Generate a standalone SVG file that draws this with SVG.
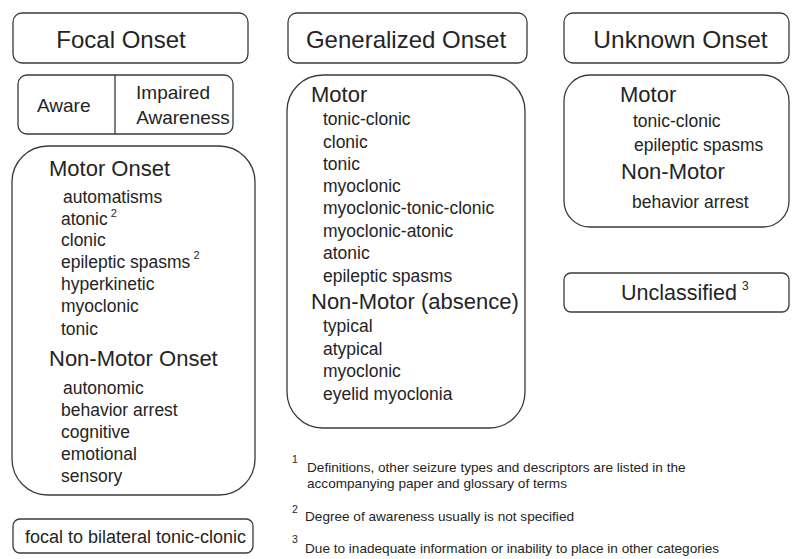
<svg xmlns="http://www.w3.org/2000/svg" width="792" height="559" viewBox="0 0 792 559">
<style>
.box{fill:#fff;stroke:#3a3a3a;stroke-width:1.3}
text{font-family:"Liberation Sans",Arial,sans-serif;fill:#242424}
.h{font-size:24px}
.s{font-size:22px}
.i{font-size:17.5px}
.a{font-size:19px}
.u{font-size:21.5px}
.sup{font-size:11px}
.fn{font-size:13.6px}
.fs{font-size:10.5px}
</style>
<rect width="792" height="559" fill="#fff"/>
<g id="focal-onset">
<rect class="box" x="13" y="13" width="235" height="50" rx="9"/>
<text class="h" x="121" y="48" text-anchor="middle">Focal Onset</text>
</g>
<g id="awareness">
<rect class="box" x="18" y="75" width="215" height="59" rx="9"/>
<line x1="115" y1="75" x2="115" y2="134" stroke="#3a3a3a" stroke-width="1.3"/>
<text class="a" x="37" y="112">Aware</text>
<text class="a" x="173" y="99" text-anchor="middle">Impaired</text>
<text class="a" x="183" y="124" text-anchor="middle">Awareness</text>
</g>
<g id="focal-types">
<rect class="box" x="12" y="146" width="243" height="349" rx="36"/>
<text class="s" x="49" y="176">Motor Onset</text>
<text class="i" x="63" y="203">automatisms</text>
<text class="i" x="61" y="224.5">atonic<tspan class="sup" dx="3" dy="-8">2</tspan></text>
<text class="i" x="61" y="246">clonic</text>
<text class="i" x="61" y="268">epileptic spasms<tspan class="sup" dx="3" dy="-9">2</tspan></text>
<text class="i" x="61" y="290">hyperkinetic</text>
<text class="i" x="61" y="312">myoclonic</text>
<text class="i" x="61" y="334.5">tonic</text>
<text class="s" x="49" y="366">Non-Motor Onset</text>
<text class="i" x="63" y="394">autonomic</text>
<text class="i" x="61" y="416">behavior arrest</text>
<text class="i" x="61" y="438">cognitive</text>
<text class="i" x="61" y="460">emotional</text>
<text class="i" x="61" y="482">sensory</text>
</g>
<g id="focal-bilateral">
<rect class="box" x="13" y="519" width="240" height="34" rx="7"/>
<text class="i" x="25" y="543" style="font-size:18px">focal to bilateral tonic-clonic</text>
</g>
<g id="generalized-onset">
<rect class="box" x="288" y="13" width="239" height="50" rx="9"/>
<text class="h" x="406" y="48" text-anchor="middle">Generalized Onset</text>
</g>
<g id="generalized-types">
<rect class="box" x="287" y="75" width="238" height="353" rx="36"/>
<text class="s" x="311" y="102">Motor</text>
<text class="i" x="323" y="125">tonic-clonic</text>
<text class="i" x="323" y="147.5">clonic</text>
<text class="i" x="323" y="169.5">tonic</text>
<text class="i" x="323" y="191.5">myoclonic</text>
<text class="i" x="323" y="214">myoclonic-tonic-clonic</text>
<text class="i" x="323" y="236.5">myoclonic-atonic</text>
<text class="i" x="323" y="259">atonic</text>
<text class="i" x="323" y="281.5">epileptic spasms</text>
<text class="s" x="311" y="309">Non-Motor (absence)</text>
<text class="i" x="323" y="332">typical</text>
<text class="i" x="323" y="354.5">atypical</text>
<text class="i" x="323" y="377">myoclonic</text>
<text class="i" x="323" y="399.5">eyelid myoclonia</text>
</g>
<g id="unknown-onset">
<rect class="box" x="564" y="13" width="225" height="50" rx="9"/>
<text class="h" x="680.5" y="48" text-anchor="middle" style="font-size:24.5px">Unknown Onset</text>
</g>
<g id="unknown-types">
<rect class="box" x="564" y="75" width="225" height="152" rx="26"/>
<text class="s" x="620" y="102">Motor</text>
<text class="i" x="633" y="127">tonic-clonic</text>
<text class="i" x="634" y="151">epileptic spasms</text>
<text class="s" x="621" y="179">Non-Motor</text>
<text class="i" x="632" y="208">behavior arrest</text>
</g>
<g id="unclassified">
<rect class="box" x="564" y="273" width="225" height="39" rx="7"/>
<text class="u" x="621" y="300">Unclassified<tspan class="sup" dx="5" dy="-10" style="font-size:12px">3</tspan></text>
</g>
<g id="footnotes">
<text class="fs" x="292" y="463">1</text>
<text class="fn" x="307" y="472">Definitions, other seizure types and descriptors are listed in the</text>
<text class="fn" x="307" y="488">accompanying paper and glossary of terms</text>
<text class="fs" x="292" y="513">2</text>
<text class="fn" x="305" y="521">Degree of awareness usually is not specified</text>
<text class="fs" x="292" y="543">3</text>
<text class="fn" x="305" y="553">Due to inadequate information or inability to place in other categories</text>
</g>
<g id="connectors"></g>
</svg>
